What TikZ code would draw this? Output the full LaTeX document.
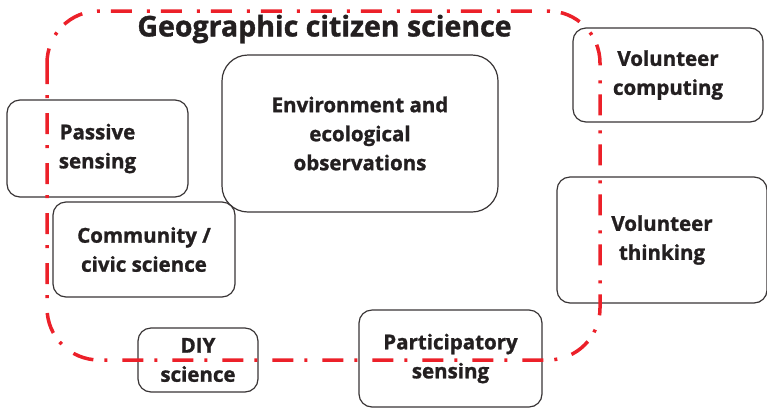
\documentclass[tikz,border=0pt]{standalone}
\usepackage{fontspec}
\setmainfont{Open Sans}[BoldFeatures={FakeBold=1.2}]
\definecolor{txt}{HTML}{231F20}
\definecolor{gcsred}{HTML}{EC2029}
\begin{document}
\begin{tikzpicture}[x=1pt,y=-1pt,
  box/.style={draw=txt!90, line width=1.2pt, rounded corners=13pt, inner sep=0pt,
    align=center, font=\fontsize{20.5}{29}\selectfont\bfseries, text=txt},
  gcs/.style={draw=gcsred, line width=3.5pt, rounded corners=52pt,
    dash pattern=on 21pt off 11pt on 3pt off 15pt}]
\useasboundingbox (0,0) rectangle (767,408);
\fill[white] (0,0) rectangle (767,408);
\node[box, minimum width=181pt, minimum height=97pt] (passive) at (97.5,148.5) {Passive\\sensing};
\node[box, minimum width=276pt, minimum height=157pt, rounded corners=26pt] (env) at (360,133.5) {Environment and\\ecological\\observations};
\node[box, minimum width=190pt, minimum height=94pt] (vcomp) at (668,75) {Volunteer\\computing};
\node[box, minimum width=210pt, minimum height=126pt] (vthink) at (662,240) {Volunteer\\thinking};
\node[box, minimum width=182pt, minimum height=95pt] (civic) at (144,249.5) {Community /\\civic science};
\node[box, minimum width=120pt, minimum height=64pt] (diy) at (198,360) {DIY\\science};
\node[box, minimum width=183pt, minimum height=97pt] (part) at (450.5,358.5) {Participatory\\sensing};
\node[font=\fontsize{28.5}{28.5}\selectfont\bfseries, text=txt, inner sep=0pt] (title) at (324.5,29) {Geographic citizen science};
\draw[gcs] (47,11) rectangle (600,360);
\end{tikzpicture}
\end{document}
